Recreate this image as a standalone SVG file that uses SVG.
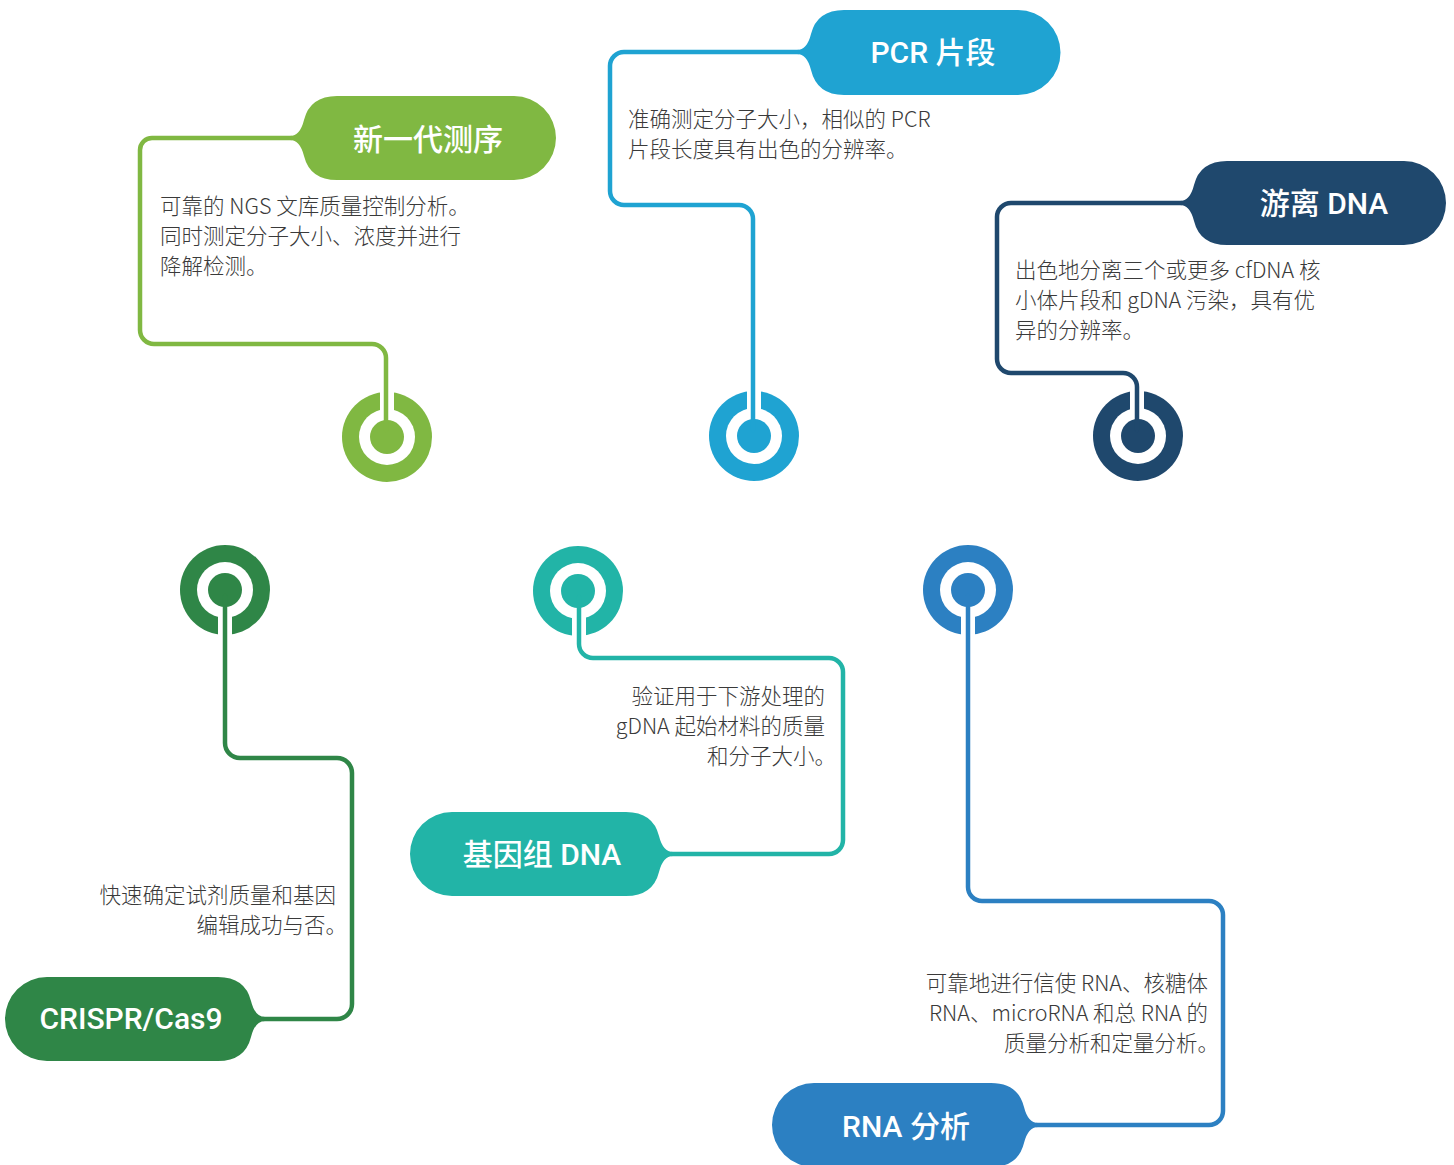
<svg xmlns="http://www.w3.org/2000/svg" width="1454" height="1165" viewBox="0 0 1454 1165">
<style>
.title{font-family:Roboto,"Noto Sans CJK SC",sans-serif;font-size:30px;font-weight:500;fill:#ffffff;text-anchor:middle}
.desc{font-family:"Noto Sans CJK SC","Noto Sans",sans-serif;font-size:21.5px;font-weight:300;fill:#3a3a3a}
.end{text-anchor:end}
.conn{fill:none;stroke-width:4.5;stroke-linecap:round;stroke-linejoin:round}
.ring{fill:#ffffff}
.g1{fill:#80b842}.s1{stroke:#80b842}
.g2{fill:#1fa3d2}.s2{stroke:#1fa3d2}
.g3{fill:#1f486d}.s3{stroke:#1f486d}
.g4{fill:#2f8647}.s4{stroke:#2f8647}
.g5{fill:#22b4a7}.s5{stroke:#22b4a7}
.g6{fill:#2c80c2}.s6{stroke:#2c80c2}
</style>
<rect width="1454" height="1165" fill="#ffffff"/>

<g id="node-ngs">
<path class="g1" d="M290,136 Q300,136 304,120 Q310,96 337,96 H514 A42,42 0 0 1 514,180 H337 Q310,180 304,156 Q300,140 290,140 Z"/>
<text class="title" x="428" y="150">新一代测序</text>
<text class="desc" x="160" y="214">可靠的 NGS 文库质量控制分析。</text>
<text class="desc" x="160" y="244">同时测定分子大小、浓度并进行</text>
<text class="desc" x="160" y="274">降解检测。</text>
<circle class="g1" cx="387" cy="437" r="45"/>
<circle class="ring" cx="387" cy="437" r="28"/>
<rect class="ring" x="380" y="388" width="14" height="26"/>
<circle class="g1" cx="387" cy="437" r="17"/>
</g>

<g id="node-pcr">
<path class="g2" d="M797,50 Q807,50 811,34 Q817,10 844,10 H1018 A42.5,42.5 0 0 1 1018,95 H844 Q817,95 811,70 Q807,54 797,54 Z"/>
<text class="title" x="933" y="63">PCR 片段</text>
<text class="desc" x="628" y="127">准确测定分子大小，相似的 PCR</text>
<text class="desc" x="628" y="157">片段长度具有出色的分辨率。</text>
<circle class="g2" cx="754" cy="436" r="45"/>
<circle class="ring" cx="754" cy="436" r="28"/>
<rect class="ring" x="747" y="387" width="14" height="26"/>
<circle class="g2" cx="754" cy="436" r="17"/>
</g>

<g id="node-cfdna">
<path class="g3" d="M1180,201 Q1190,201 1194,185 Q1200,161 1227,161 H1404 A42,42 0 0 1 1404,245 H1227 Q1200,245 1194,221 Q1190,205 1180,205 Z"/>
<text class="title" x="1324" y="214">游离 DNA</text>
<text class="desc" x="1015" y="278">出色地分离三个或更多 cfDNA 核</text>
<text class="desc" x="1015" y="308">小体片段和 gDNA 污染，具有优</text>
<text class="desc" x="1015" y="338">异的分辨率。</text>
<circle class="g3" cx="1138" cy="436" r="45"/>
<circle class="ring" cx="1138" cy="436" r="28"/>
<rect class="ring" x="1130" y="387" width="14" height="26"/>
<circle class="g3" cx="1138" cy="436" r="17"/>
</g>

<g id="node-crispr">
<path class="g4" d="M265,1017 Q255,1017 251,1001 Q245,977 218,977 H47 A42,42 0 0 0 47,1061 H218 Q245,1061 251,1037 Q255,1021 265,1021 Z"/>
<text class="title" x="131" y="1029">CRISPR/Cas9</text>
<text class="desc end" x="336" y="903">快速确定试剂质量和基因</text>
<text class="desc end" x="347" y="933">编辑成功与否。</text>
<circle class="g4" cx="225" cy="590" r="45"/>
<circle class="ring" cx="225" cy="590" r="28"/>
<rect class="ring" x="218" y="613" width="14" height="26"/>
<circle class="g4" cx="225" cy="590" r="17"/>
</g>

<g id="node-gdna">
<path class="g5" d="M673,852 Q663,852 659,836 Q653,812 626,812 H452 A42,42 0 0 0 452,896 H626 Q653,896 659,872 Q663,856 673,856 Z"/>
<text class="title" x="542" y="865">基因组 DNA</text>
<text class="desc end" x="825" y="704">验证用于下游处理的</text>
<text class="desc end" x="825" y="734">gDNA 起始材料的质量</text>
<text class="desc end" x="836" y="764">和分子大小。</text>
<circle class="g5" cx="578" cy="591" r="45"/>
<circle class="ring" cx="578" cy="591" r="28"/>
<rect class="ring" x="572" y="614" width="14" height="26"/>
<circle class="g5" cx="578" cy="591" r="17"/>
</g>

<g id="node-rna">
<path class="g6" d="M1038,1123 Q1028,1123 1024,1107 Q1018,1083 991,1083 H814 A42,42 0 0 0 814,1167 H991 Q1018,1167 1024,1143 Q1028,1127 1038,1127 Z"/>
<text class="title" x="906" y="1137">RNA 分析</text>
<text class="desc end" x="1208" y="991">可靠地进行信使 RNA、核糖体</text>
<text class="desc end" x="1208" y="1021">RNA、microRNA 和总 RNA 的</text>
<text class="desc end" x="1219" y="1051">质量分析和定量分析。</text>
<circle class="g6" cx="968" cy="590" r="45"/>
<circle class="ring" cx="968" cy="590" r="28"/>
<rect class="ring" x="961" y="613" width="14" height="26"/>
<circle class="g6" cx="968" cy="590" r="17"/>
</g>

<g id="connectors">
<path class="conn s1" d="M292,138 H152 A12,12 0 0 0 140,150 V330 A14,14 0 0 0 154,344 H372 A14,14 0 0 1 386,358 V430"/>
<path class="conn s2" d="M799,52 H624 A14,14 0 0 0 610,66 V191 A14,14 0 0 0 624,205 H739 A14,14 0 0 1 753,219 V430"/>
<path class="conn s3" d="M1182,203 H1011 A14,14 0 0 0 997,217 V359 A14,14 0 0 0 1011,373 H1123 A14,14 0 0 1 1137,387 V430"/>
<path class="conn s4" d="M225,596 V743 A15,15 0 0 0 240,758 H337 A15,15 0 0 1 352,773 V1004 A15,15 0 0 1 337,1019 H263"/>
<path class="conn s5" d="M579,597 V644 A14,14 0 0 0 593,658 H829 A14,14 0 0 1 843,672 V840 A14,14 0 0 1 829,854 H671"/>
<path class="conn s6" d="M968,596 V887 A14,14 0 0 0 982,901 H1209 A14,14 0 0 1 1223,915 V1111 A14,14 0 0 1 1209,1125 H1036"/>
</g>
</svg>
